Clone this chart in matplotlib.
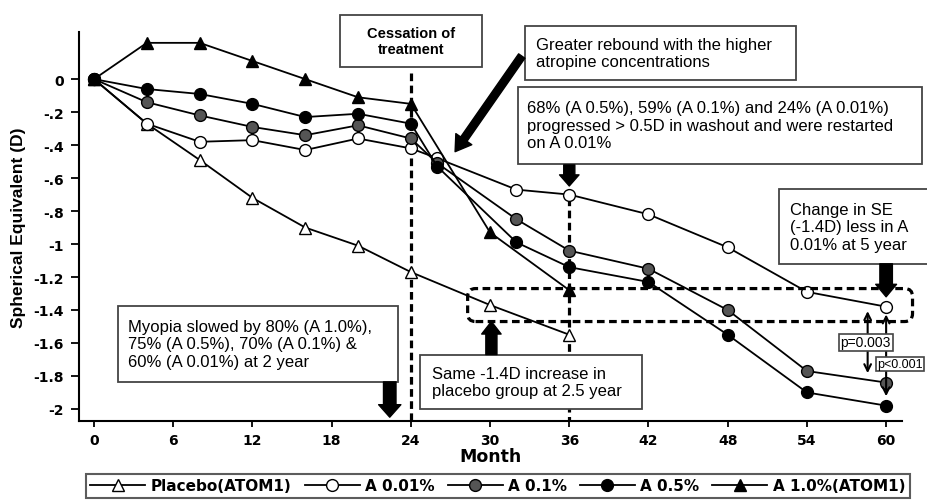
import matplotlib
matplotlib.use('Agg')
import matplotlib.pyplot as plt
from matplotlib.patches import Rectangle, FancyBboxPatch

# data (spherical equivalent change, D)
months = [0, 4, 8, 12, 16, 20, 24, 26, 32, 36, 42, 48, 54, 60]
atom1_months = [0, 4, 8, 12, 16, 20, 24, 30, 36]
placebo = [0, -0.27, -0.49, -0.72, -0.90, -1.01, -1.17, -1.37, -1.55]
a001 = [0, -0.27, -0.38, -0.37, -0.43, -0.36, -0.42, -0.48, -0.67, -0.70, -0.82, -1.02, -1.29, -1.38]
a01 = [0, -0.14, -0.22, -0.29, -0.34, -0.28, -0.36, -0.51, -0.85, -1.04, -1.15, -1.40, -1.77, -1.84]
a05 = [0, -0.06, -0.09, -0.15, -0.23, -0.21, -0.27, -0.53, -0.99, -1.14, -1.23, -1.55, -1.90, -1.98]
a10 = [0, 0.22, 0.22, 0.11, 0.0, -0.11, -0.15, -0.93, -1.28]

xticks = [0, 6, 12, 18, 24, 30, 36, 42, 48, 54, 60]
yticks = [0, -0.2, -0.4, -0.6, -0.8, -1.0, -1.2, -1.4, -1.6, -1.8, -2.0]
ytick_labels = ['0', '-.2', '-.4', '-.6', '-.8', '-1', '-1.2', '-1.4', '-1.6', '-1.8', '-2']

labels = ['Placebo(ATOM1)', 'A 0.01%', 'A 0.1%', 'A 0.5%', 'A 1.0%(ATOM1)']

fig = plt.figure(figsize=(9.27, 5.02), dpi=100)
ax = fig.add_axes([0.0852, 0.1594, 0.8878, 0.7746])

textFont = 'Liberation Sans'
boxEdge = '#444444'
ms = 8.5
lw = 1.3

ax.plot(atom1_months, placebo, color='black', lw=lw, marker='^', ms=ms, mfc='white', mec='black', label=labels[0], zorder=3)
ax.plot(months, a001, color='black', lw=lw, marker='o', ms=ms, mfc='white', mec='black', label=labels[1], zorder=3)
ax.plot(months, a01, color='black', lw=lw, marker='o', ms=ms, mfc='#555555', mec='black', label=labels[2], zorder=3)
ax.plot(months, a05, color='black', lw=lw, marker='o', ms=ms, mfc='black', mec='black', label=labels[3], zorder=3)
ax.plot(atom1_months, a10, color='black', lw=lw, marker='^', ms=ms, mfc='black', mec='black', label=labels[4], zorder=3)

ax.set_xlim(-1.14, 61.2)
ax.set_ylim(-2.073, 0.285)
ax.set_xticks(xticks)
ax.set_xticklabels([str(t) for t in xticks])
ax.set_yticks(yticks)
ax.set_yticklabels(ytick_labels)
for lab in ax.get_xticklabels() + ax.get_yticklabels():
    lab.set_fontfamily('DejaVu Sans')
    lab.set_fontweight('bold')
    lab.set_fontsize(10)
ax.tick_params(axis='y', direction='out', length=6, width=1.3, pad=5)
ax.tick_params(axis='x', direction='out', length=4.5, width=1.3, pad=4)
for side in ['top', 'right']:
    ax.spines[side].set_visible(False)
for side in ['left', 'bottom']:
    ax.spines[side].set_linewidth(1.5)

ax.set_xlabel('Month', fontfamily='DejaVu Sans', fontweight='bold', fontsize=12.5, labelpad=0)
ax.set_ylabel('Spherical Equivalent (D)', fontfamily=textFont, fontweight='bold', fontsize=12.5, labelpad=5)

# dashed guide lines
dashStyle = (0, (2.4, 1.4))
ax.plot([24, 24], [0.04, -2.073], color='black', lw=2.3, linestyle=dashStyle, zorder=2, clip_on=False)
ax.plot([36, 36], [-0.72, -2.073], color='black', lw=2.3, linestyle=dashStyle, zorder=2, clip_on=False)
box = FancyBboxPatch((28.3, -1.47), 33.7, 0.20, boxstyle='round,pad=0,rounding_size=0.6',
                     mutation_aspect=0.08, fill=False, ec='black', lw=2.3, linestyle=dashStyle,
                     zorder=4, clip_on=False)
ax.add_patch(box)


def noteBox(x0, x1, yTop, yBottom, text, tx, ty, ha='left', **kw):
    rect = Rectangle((x0, yBottom), x1 - x0, yTop - yBottom, fc='white', ec=boxEdge, lw=1.3,
                     zorder=6, clip_on=False)
    ax.add_patch(rect)
    ax.text(tx, ty, text, ha=ha, va='center', zorder=7, fontfamily=textFont, linespacing=1.2,
            clip_on=False, **kw)


noteBox(18.6, 29.4, 0.388, 0.073, 'Cessation of\ntreatment', 24.0, 0.232, ha='center',
        fontsize=10.5, fontweight='bold')
noteBox(32.65, 53.2, 0.321, -0.006, 'Greater rebound with the higher\natropine concentrations',
        33.5, 0.158, fontsize=12)
noteBox(32.1, 62.7, -0.048, -0.515,
        '68% (A 0.5%), 59% (A 0.1%) and 24% (A 0.01%)\nprogressed > 0.5D in washout and were restarted\non A 0.01%',
        32.8, -0.28, fontsize=12)
noteBox(1.82, 23.0, -1.376, -1.836,
        'Myopia slowed by 80% (A 1.0%),\n75% (A 0.5%), 70% (A 0.1%) &\n60% (A 0.01%) at 2 year',
        2.6, -1.605, fontsize=12)
noteBox(24.7, 41.5, -1.67, -2.0, 'Same -1.4D increase in\nplacebo group at 2.5 year',
        25.6, -1.835, fontsize=12)
noteBox(51.9, 64.0, -0.667, -1.12, 'Change in SE\n(-1.4D) less in A\n0.01% at 5 year',
        52.7, -0.895, fontsize=12)

# thick black arrows
def bigArrow(start, end, width=8, headwidth=16, headlength=9):
    ax.annotate('', xy=end, xytext=start, zorder=8, annotation_clip=False,
                arrowprops=dict(facecolor='black', edgecolor='black', width=width,
                                headwidth=headwidth, headlength=headlength, shrink=0))


bigArrow((32.4, 0.14), (27.35, -0.44), width=5.5, headwidth=14, headlength=11)
bigArrow((36.0, -0.52), (36.0, -0.648), width=8, headwidth=14, headlength=8)
bigArrow((22.4, -1.836), (22.4, -2.05), width=9, headwidth=16, headlength=9)
bigArrow((30.1, -1.67), (30.1, -1.47), width=8, headwidth=14, headlength=9)
bigArrow((60.0, -1.12), (60.0, -1.32), width=9, headwidth=15, headlength=9)

# significance brackets
ax.annotate('', xy=(58.6, -1.39), xytext=(58.6, -1.80), zorder=5, annotation_clip=False,
            arrowprops=dict(arrowstyle='<->', color='black', lw=1.5, mutation_scale=12))
ax.annotate('', xy=(60.0, -1.41), xytext=(60.0, -1.94), zorder=5, annotation_clip=False,
            arrowprops=dict(arrowstyle='<->', color='black', lw=1.5, mutation_scale=12))
ax.text(58.45, -1.597, 'p=0.003', ha='center', va='center', fontsize=10, fontfamily=textFont, zorder=9,
        bbox=dict(boxstyle='square,pad=0.12', fc='white', ec=boxEdge, lw=1.2))
ax.text(59.3, -1.728, 'p<0.001', ha='left', va='center', fontsize=9, fontfamily=textFont, zorder=9,
        clip_on=False, bbox=dict(boxstyle='square,pad=0.1', fc='white', ec=boxEdge, lw=1.2))

leg = fig.legend(loc='upper center', bbox_to_anchor=(0.537, 0.054), ncol=5, frameon=True,
                 fancybox=False, edgecolor='#333333', handlelength=3.6, handletextpad=0.35,
                 columnspacing=0.85, borderpad=0.3, borderaxespad=0,
                 prop={'family': 'DejaVu Sans', 'weight': 'bold', 'size': 11})
leg.get_frame().set_linewidth(1.5)

fig.savefig('out.png', dpi=100)
